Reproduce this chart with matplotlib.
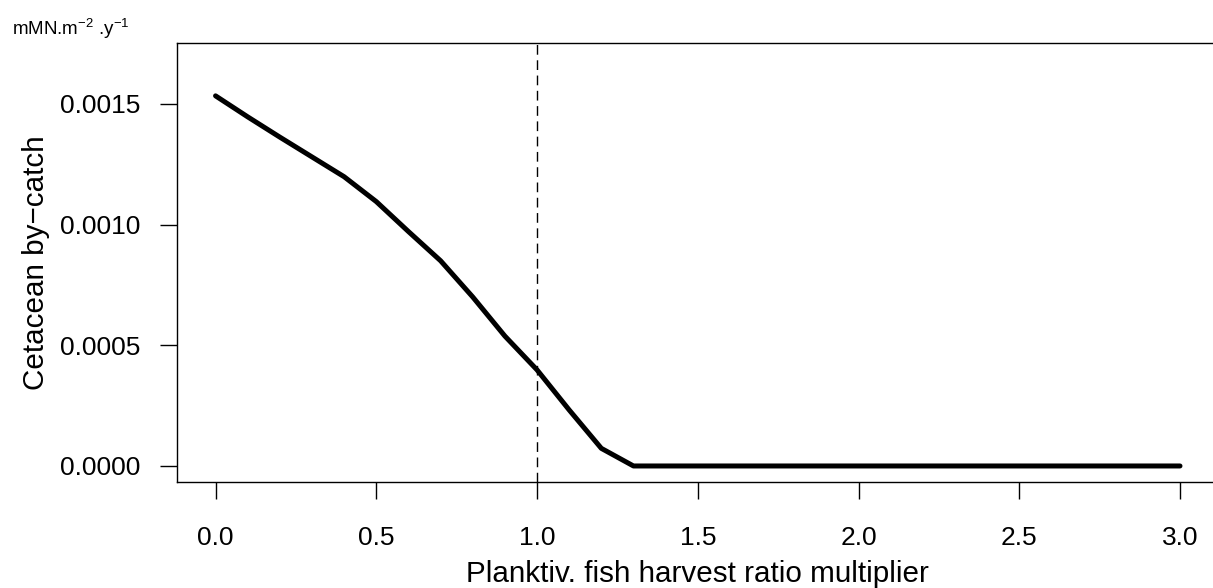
import numpy as np
import matplotlib
matplotlib.use("Agg")
import matplotlib.pyplot as plt

plt.rcParams['font.family'] = ['Liberation Sans', 'DejaVu Sans']
plt.rcParams['mathtext.default'] = 'regular'

# harvest ratio multiplier and by-catch
multiplier = np.round(np.arange(0, 3.01, 0.1), 1)
bycatch_head = [0.001533, 0.001446, 0.001362, 0.001280, 0.001198, 0.001095,
                0.000971, 0.000850, 0.000700, 0.000538, 0.000398, 0.000232,
                0.000073]
bycatch = np.array(bycatch_head + [0.0] * (len(multiplier) - len(bycatch_head)))

xticks = [0.0, 0.5, 1.0, 1.5, 2.0, 2.5, 3.0]
yticks = [0.0000, 0.0005, 0.0010, 0.0015]
baseline = 1.0

fig = plt.figure(figsize=(12.13, 5.88), dpi=100)
ax = fig.add_axes([0.1459, 0.1803, 0.8587, 0.7466])

ax.plot(multiplier, bycatch, color="black", lw=3.6,
        solid_capstyle="round", solid_joinstyle="round")
ax.axvline(baseline, color="black", lw=1.0, dashes=(7, 4))

ax.set_xlim(-0.12, 3.12)
ax.set_ylim(-0.0000663, 0.001752)
ax.set_xticks(xticks)
ax.set_xticklabels([f"{v:.1f}" for v in xticks])
ax.set_yticks(yticks)
ax.set_yticklabels([f"{v:.4f}" for v in yticks])

for s in ax.spines.values():
    s.set_linewidth(1.0)
ax.tick_params(axis="both", labelsize=19, length=12.5, width=1.0, color="black")
ax.tick_params(axis="y", pad=14)
ax.tick_params(axis="x", pad=19.5)

ax.set_xlabel("Planktiv. fish harvest ratio multiplier", fontsize=21.3, labelpad=7)
ax.set_ylabel("Cetacean by\u2212catch", fontsize=21.3, labelpad=7)

fig.text(12 / 1213, 1 - 35 / 588, r"mMN.m$^{-2}$ .y$^{-1}$", fontsize=13.5,
         ha="left", va="baseline")

fig.savefig("out.png", dpi=100)
